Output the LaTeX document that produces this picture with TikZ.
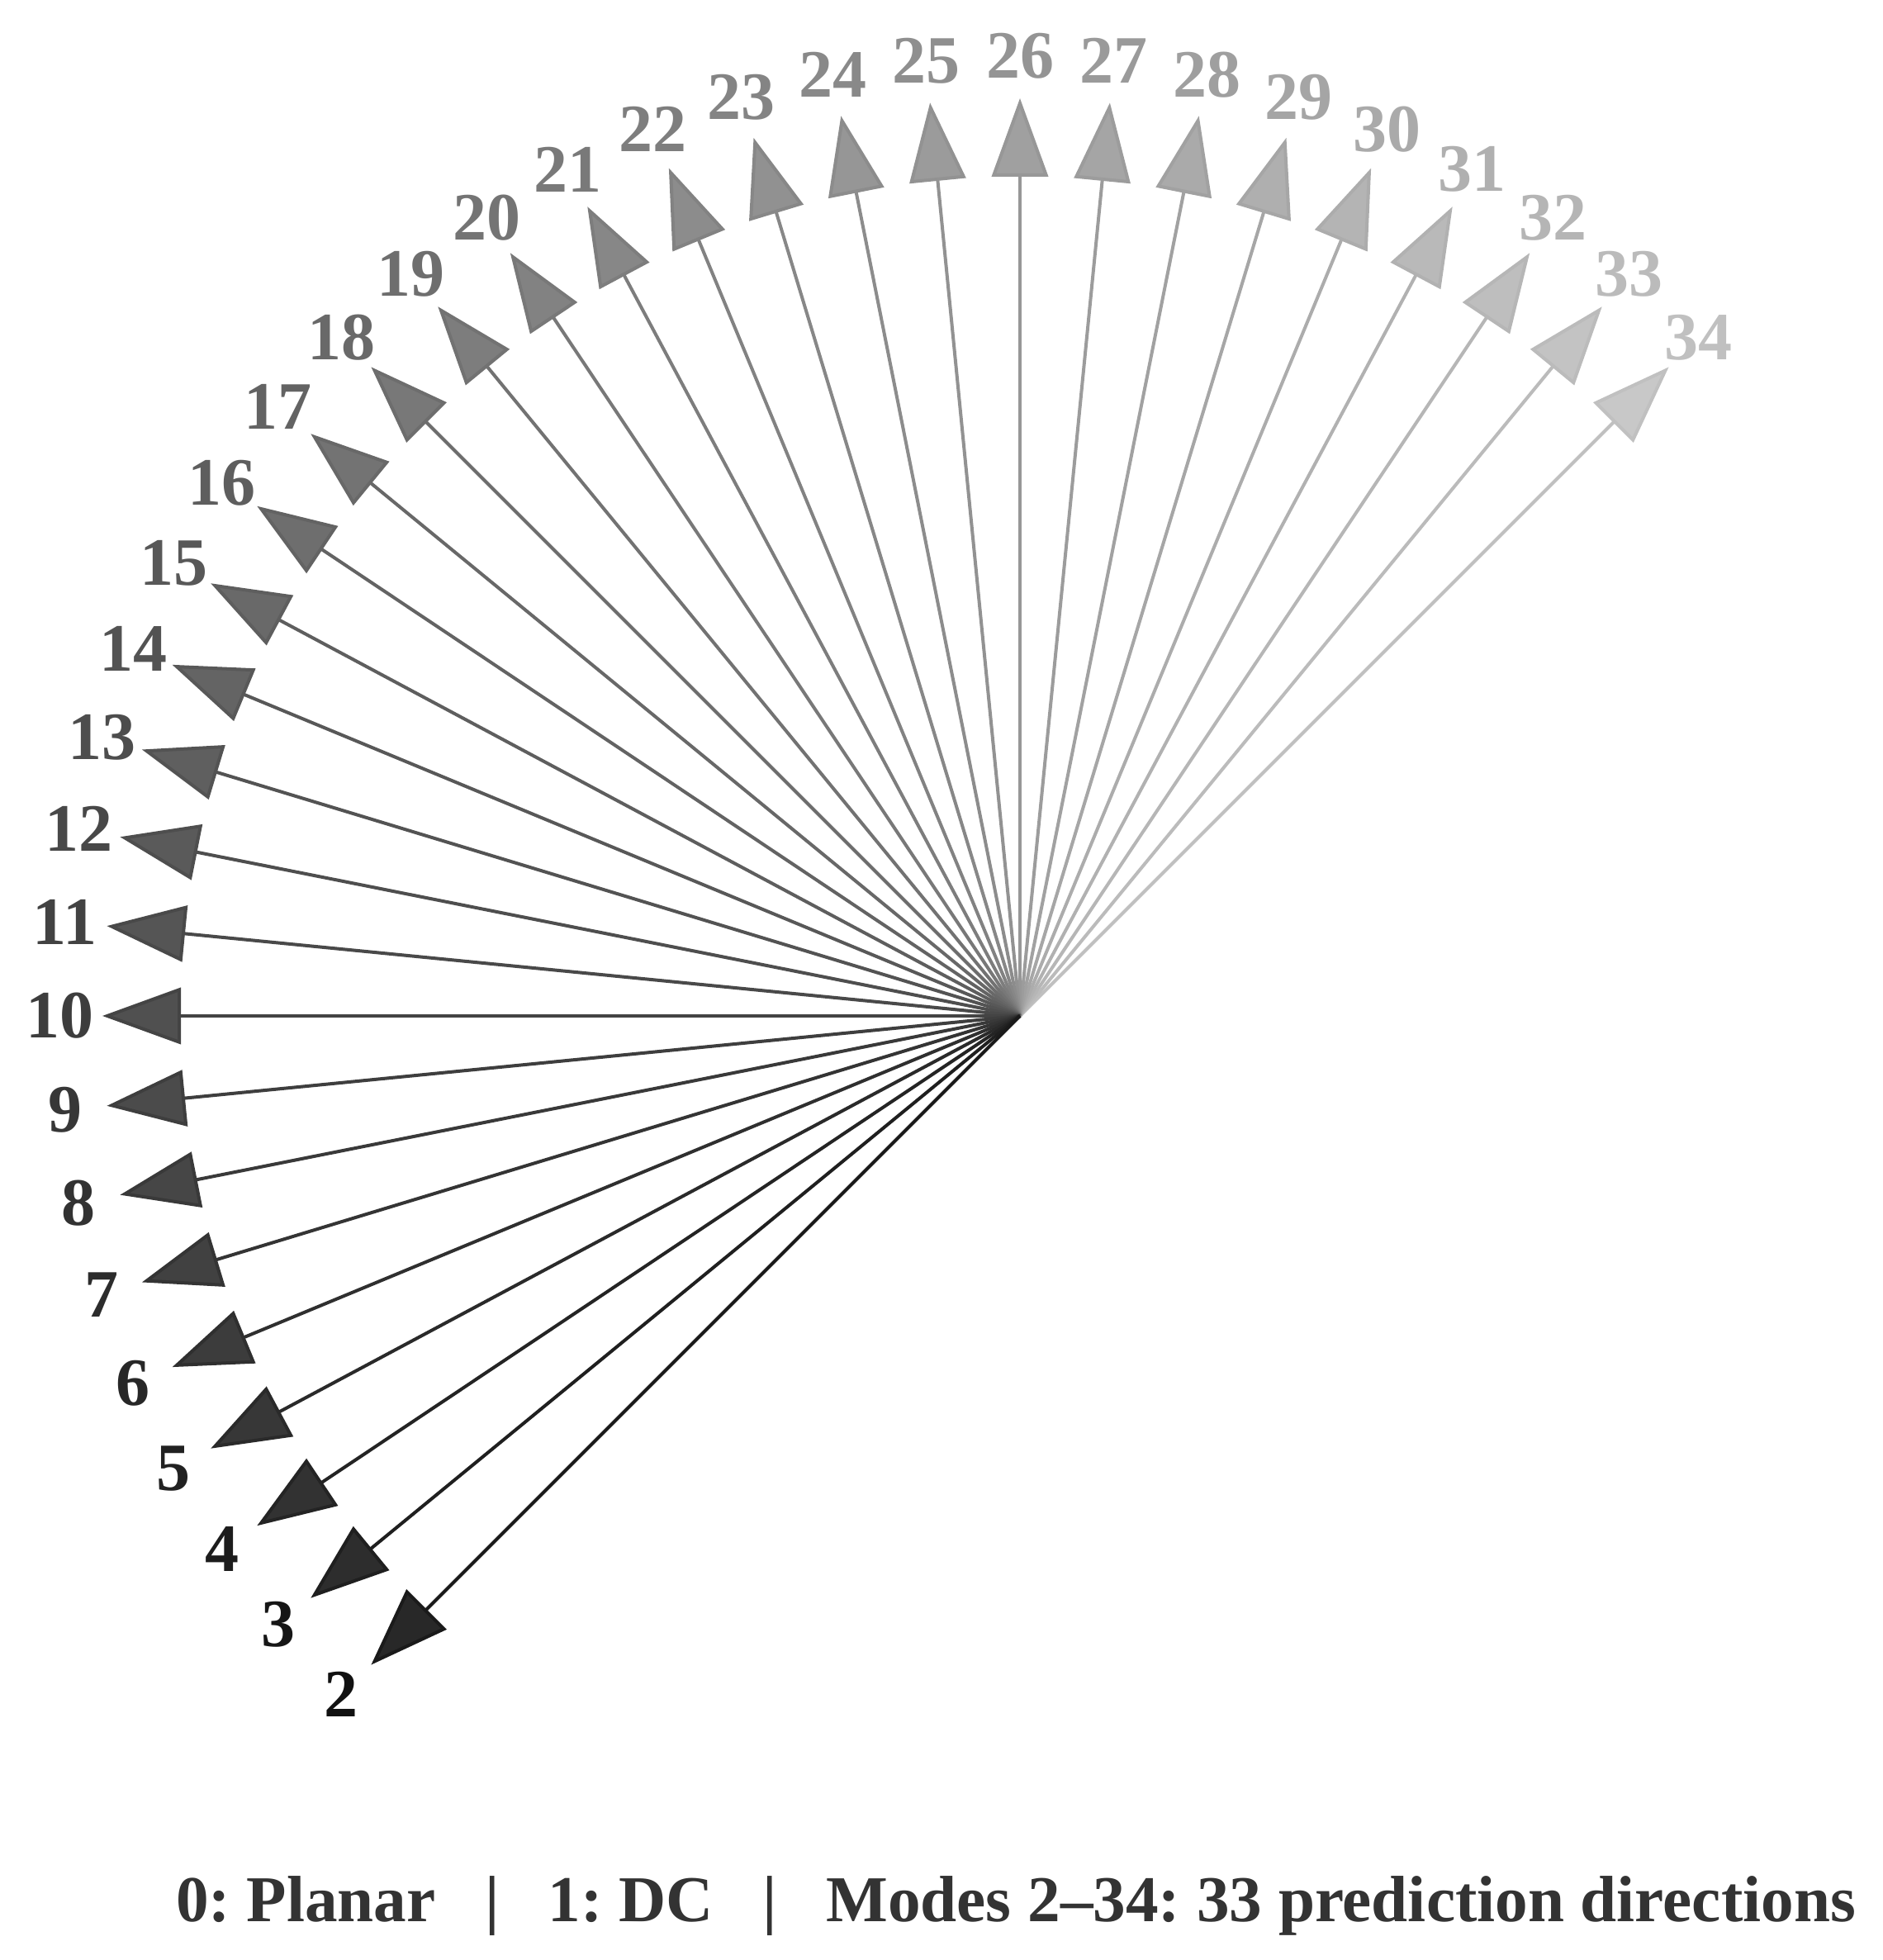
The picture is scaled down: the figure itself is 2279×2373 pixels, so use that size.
\documentclass[tikz,border=0pt]{standalone}
\usepackage{fontspec}
\setmainfont{Liberation Serif}
\usetikzlibrary{arrows.meta,calc}
\definecolor{capgray}{gray}{0.2}
\begin{document}
\frenchspacing
\begin{tikzpicture}[x=0.25pt,y=0.25pt,
  ray/.style={line width=1pt},
  lbl/.style={font=\fontsize{20.5pt}{24pt}\selectfont\bfseries, inner sep=0pt},
  captxt/.style={font=\fontsize{19.8pt}{24pt}\selectfont\bfseries, text=capgray, inner sep=0pt, anchor=base}]
\useasboundingbox (0,0) rectangle (2279,2373);
\coordinate (O) at (1235,1143);
\foreach \m in {34,33,...,2}{
  \pgfmathsetmacro\ang{225-5.625*(\m-2)}
  \pgfmathsetmacro\gb{(26+5.2*(\m-2))/255}
  \pgfmathsetmacro\gf{(40+5.0*(\m-2))/255}
  \pgfmathsetmacro\gl{(17+5.47*(\m-2))/255}
  \definecolor{lc\m}{gray}{\gb}
  \definecolor{fc\m}{gray}{\gf}
  \definecolor{tc\m}{gray}{\gl}
  \coordinate (t\m) at ($(O)+(\ang:1111)$);
  \draw[ray, draw=lc\m, -{Triangle[length=23.75pt,width=17pt,fill=fc\m]}] (O) -- (t\m);
  \node[lbl, text=tc\m] (l\m) at ($(O)+(\ang:1162)$) {\m};
}
\node[captxt] (cap) at (1230,46) {0: Planar\hspace{0.75em}|\hspace{0.75em}1: DC\hspace{0.75em}|\hspace{0.75em}Modes 2–34: 33 prediction directions};
\end{tikzpicture}
\end{document}
